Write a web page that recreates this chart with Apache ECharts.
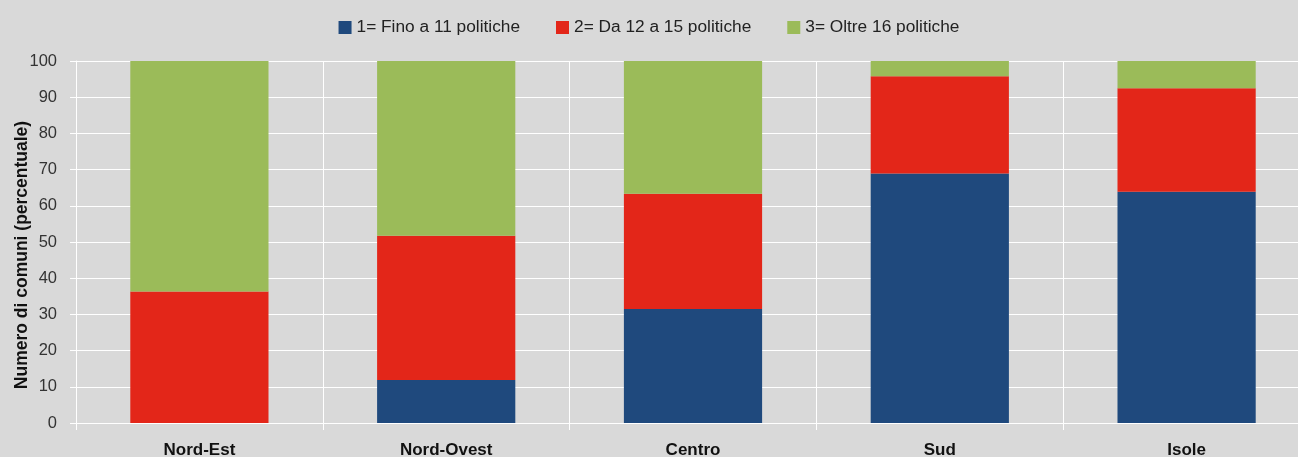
<!DOCTYPE html>
<html>
<head>
<meta charset="utf-8">
<script src="https://cdn.jsdelivr.net/npm/echarts@6/dist/echarts.min.js"></script>
<style>
  html, body { margin: 0; padding: 0; background: #d9d9d9; }
  #chart { width: 1298px; height: 457px; }
</style>
</head>
<body>
<div id="chart"></div>
<script>
  // dati (percentuali)
  let aree = ['Nord-Est', 'Nord-Ovest', 'Centro', 'Sud', 'Isole']
  let fino11 = [0, 11.9, 31.5, 68.9, 63.9]
  let da12a15 = [36.3, 39.8, 31.8, 26.9, 28.6]
  let oltre16 = [63.7, 48.3, 36.7, 4.2, 7.5]
  let nomiSerie = ['1= Fino a 11 politiche', '2= Da 12 a 15 politiche', '3= Oltre 16 politiche']

  let myChart = echarts.init(document.getElementById('chart'))
  let font = 'Liberation Sans, Arial, sans-serif'

  let option = {
      backgroundColor: '#d9d9d9',
      textStyle: { fontFamily: font },
      legend: {
          data: nomiSerie,
          top: 14,
          left: 'center',
          itemWidth: 13,
          itemHeight: 13,
          itemGap: 36,
          icon: 'rect',
          textStyle: { color: '#222', fontSize: 17.3, fontFamily: font }
      },
      grid: {
          left: 76,
          right: -12,
          top: 61,
          bottom: 34,
          outerBoundsMode: 'none',
          containLabel: false
      },
      xAxis: {
          type: 'category',
          data: aree,
          axisLine: { lineStyle: { color: '#fff', width: 1 } },
          axisTick: { show: true, length: 7, lineStyle: { color: '#fff' } },
          splitLine: { show: true, lineStyle: { color: '#fff', width: 1 } },
          axisLabel: { color: '#111', fontSize: 17, fontWeight: 'bold', margin: 19, fontFamily: font }
      },
      yAxis: {
          type: 'value',
          min: 0,
          max: 100,
          interval: 10,
          name: 'Numero di comuni (percentuale)',
          nameLocation: 'middle',
          nameGap: 45,
          nameMoveOverlap: false,
          nameTextStyle: { color: '#111', fontSize: 17.5, fontWeight: 'bold', fontFamily: font, padding: [0, 26, 0, 0] },
          axisLine: { show: true, lineStyle: { color: '#fff' } },
          axisTick: { show: true, length: 6, lineStyle: { color: '#fff' } },
          splitLine: { lineStyle: { color: '#fff', width: 1 } },
          axisLabel: { color: '#333', fontSize: 16.5, margin: 19, fontFamily: font }
      },
      series: [
          {
              name: nomiSerie[0],
              type: 'bar',
              stack: 'tot',
              barWidth: '56%',
              data: fino11,
              itemStyle: { color: '#1f497d' }
          },
          {
              name: nomiSerie[1],
              type: 'bar',
              stack: 'tot',
              data: da12a15,
              itemStyle: { color: '#e32619' }
          },
          {
              name: nomiSerie[2],
              type: 'bar',
              stack: 'tot',
              data: oltre16,
              itemStyle: { color: '#9bbb59' }
          }
      ]
  }

  myChart.setOption(option, true)
</script>
</body>
</html>
